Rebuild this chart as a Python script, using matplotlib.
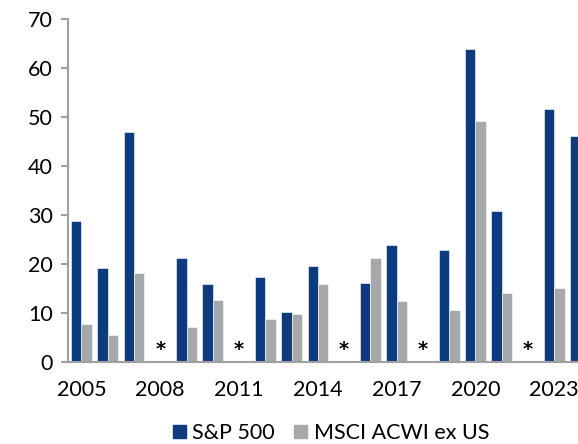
import matplotlib
matplotlib.use("Agg")
import matplotlib.pyplot as plt
import numpy as np
from matplotlib.patches import Patch

years = list(range(2005, 2025))
sp500 = [28.7, 19.2, 47.0, 0, 21.2, 16.0, 0, 17.4, 10.2, 19.5,
         0, 16.2, 23.8, 0, 22.8, 63.9, 30.8, 0, 51.7, 46.2]
acwi_ex_us = [7.7, 5.5, 18.1, 0, 7.1, 12.6, 0, 8.7, 9.7, 16.0,
              0, 21.3, 12.5, 0, 10.7, 49.1, 14.1, 0, 15.1, 14.5]
starred_years = [2008, 2011, 2015, 2018, 2022]
tick_years = [2005, 2008, 2011, 2014, 2017, 2020, 2023]

blue = "#0e3a80"
grey = "#a7a8ac"
axis_grey = "#a0a0a0"

plt.rcParams["font.family"] = ["Lato", "DejaVu Sans"]

fig = plt.figure(figsize=(5.78, 4.44), dpi=100)
ax = fig.add_axes([68.3 / 578, 82 / 444, 525.4 / 578, 343 / 444])

x = np.arange(len(years))
w = 0.393
ax.bar(x - w / 2, sp500, width=w, color=blue, edgecolor="white", linewidth=0.4)
ax.bar(x + w / 2, acwi_ex_us, width=w, color=grey, edgecolor="white", linewidth=0.4)

for yr in starred_years:
    ax.text(years.index(yr), 0.6, "*", ha="center", va="bottom",
            fontsize=14, fontweight="bold", color="black", family="DejaVu Sans")

ax.set_xlim(-0.5, len(years) - 0.5)
ax.set_ylim(0, 70)
ax.set_yticks(range(0, 71, 10))
ax.set_xticks([years.index(t) for t in tick_years])
ax.set_xticklabels([str(t) for t in tick_years])

for s in ["top", "right"]:
    ax.spines[s].set_visible(False)
for s in ["left", "bottom"]:
    ax.spines[s].set_color(axis_grey)
    ax.spines[s].set_linewidth(1.5)

ax.tick_params(axis="y", length=5, width=1.5, color=axis_grey, pad=6,
               labelsize=15.5, labelcolor="black")
ax.tick_params(axis="x", length=0, pad=13, labelsize=15.5, labelcolor="black")

handles = [Patch(color=blue, label="S&P 500"), Patch(color=grey, label="MSCI ACWI ex US")]
fig.legend(handles=handles, loc="center", bbox_to_anchor=(331 / 578, 1 - 433 / 444),
           ncol=2, frameon=False, fontsize=15.5, handlelength=0.6, handleheight=0.6,
           handletextpad=0.3, columnspacing=0.9)

fig.savefig("out.png", dpi=100)
